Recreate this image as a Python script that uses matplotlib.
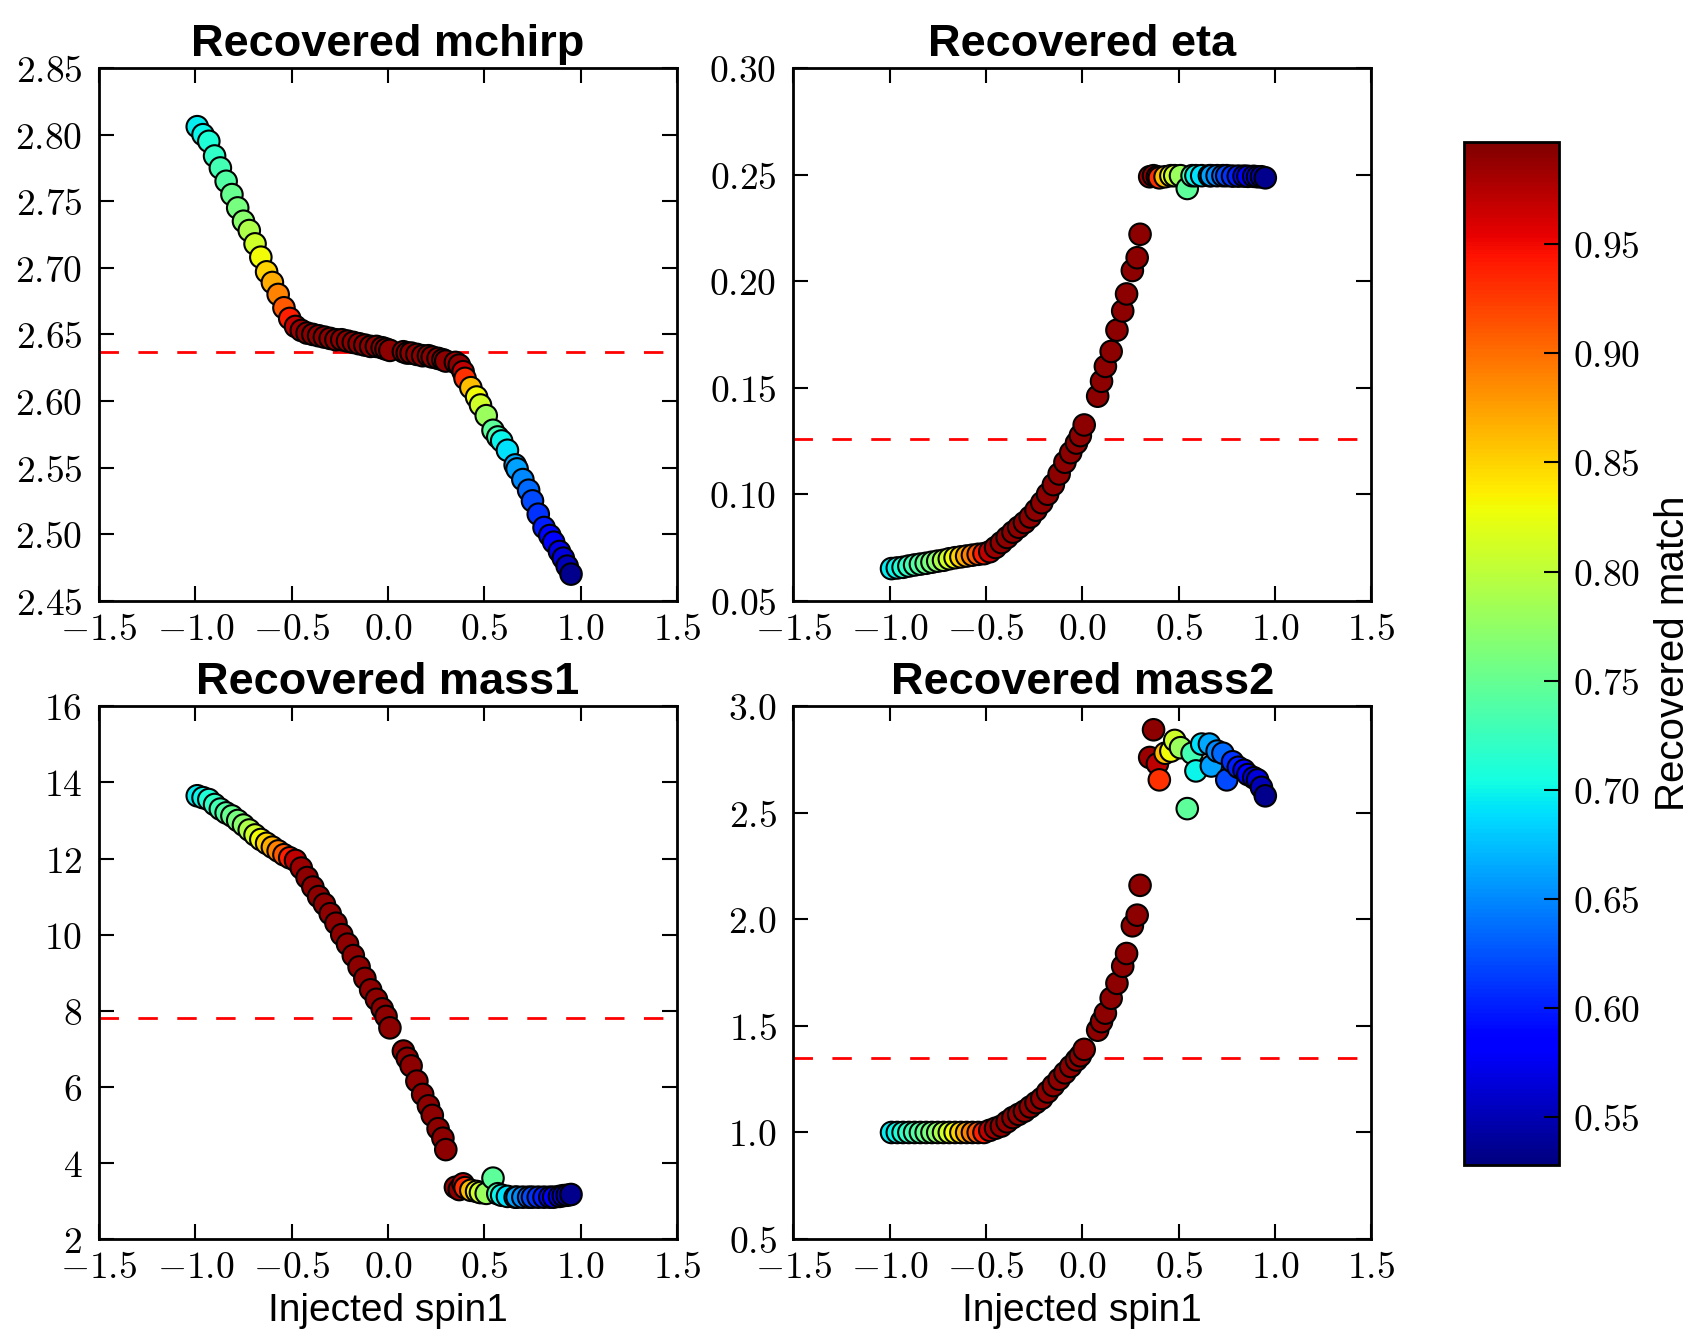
import matplotlib
matplotlib.use("Agg")
import matplotlib.pyplot as plt
from matplotlib.ticker import MultipleLocator, FormatStrFormatter

plt.rcParams['mathtext.fontset'] = 'cm'
plt.rcParams['font.family'] = ['Liberation Sans', 'DejaVu Sans']

# injected spin1 of each injection
spin1 = [-0.99, -0.96, -0.93, -0.90, -0.87, -0.84, -0.81, -0.78, -0.75, -0.72,
         -0.69, -0.66, -0.63, -0.60, -0.57, -0.54, -0.51, -0.48, -0.45, -0.42,
         -0.39, -0.36, -0.33, -0.30, -0.27, -0.24, -0.21, -0.18, -0.15, -0.12,
         -0.09, -0.06, -0.03, -0.01, 0.01, 0.08, 0.10, 0.12, 0.15, 0.18,
         0.21, 0.23, 0.26, 0.285, 0.30, 0.35, 0.37, 0.39, 0.40, 0.43,
         0.46, 0.48, 0.51, 0.545, 0.57, 0.59, 0.62, 0.66, 0.67, 0.70,
         0.73, 0.75, 0.78, 0.81, 0.84, 0.86, 0.89, 0.91, 0.93, 0.95]

# recovered match (colour)
match = [0.695, 0.70, 0.71, 0.72, 0.73, 0.74, 0.75, 0.76, 0.77, 0.79,
         0.81, 0.83, 0.85, 0.87, 0.89, 0.91, 0.94, 0.97, 0.985, 0.99,
         0.99, 0.99, 0.99, 0.99, 0.99, 0.99, 0.99, 0.99, 0.99, 0.99,
         0.99, 0.99, 0.99, 0.99, 0.99, 0.99, 0.99, 0.99, 0.99, 0.99,
         0.99, 0.99, 0.99, 0.99, 0.99, 0.985, 0.99, 0.97, 0.93, 0.86,
         0.83, 0.81, 0.78, 0.745, 0.73, 0.70, 0.69, 0.665, 0.66, 0.65,
         0.635, 0.62, 0.61, 0.60, 0.59, 0.585, 0.57, 0.565, 0.55, 0.535]

rec_mchirp = [2.806, 2.800, 2.795, 2.784, 2.775, 2.765, 2.755, 2.745, 2.735, 2.728,
              2.718, 2.708, 2.697, 2.689, 2.680, 2.670, 2.662, 2.656, 2.653, 2.651,
              2.650, 2.649, 2.648, 2.647, 2.646, 2.646, 2.645, 2.644, 2.643, 2.642,
              2.641, 2.641, 2.640, 2.639, 2.638, 2.637, 2.636, 2.636, 2.635, 2.634,
              2.634, 2.633, 2.632, 2.631, 2.630, 2.629, 2.627, 2.622, 2.617, 2.610,
              2.603, 2.597, 2.589, 2.578, 2.573, 2.570, 2.563, 2.552, 2.549, 2.541,
              2.533, 2.525, 2.515, 2.505, 2.499, 2.494, 2.487, 2.482, 2.476, 2.470]

rec_eta = [0.0651, 0.0654, 0.0657, 0.0663, 0.0668, 0.0672, 0.0676, 0.0681, 0.0686, 0.0690,
           0.0697, 0.0702, 0.0706, 0.0710, 0.0714, 0.0718, 0.0721, 0.0730, 0.0750, 0.0773,
           0.0797, 0.0822, 0.0845, 0.0867, 0.0893, 0.0925, 0.0960, 0.1000, 0.1045, 0.1095,
           0.1150, 0.1195, 0.1240, 0.1275, 0.1325, 0.1460, 0.1530, 0.1600, 0.1670, 0.1770,
           0.1860, 0.1940, 0.2050, 0.2110, 0.2220, 0.2490, 0.2495, 0.2490, 0.2485, 0.2490,
           0.2495, 0.2495, 0.2495, 0.2435, 0.2495, 0.2495, 0.2495, 0.2495, 0.2495, 0.2495,
           0.2495, 0.2495, 0.2493, 0.2493, 0.2493, 0.2492, 0.2492, 0.2490, 0.2490, 0.2485]

rec_mass1 = [13.65, 13.60, 13.55, 13.42, 13.30, 13.20, 13.12, 13.00, 12.88, 12.75,
             12.62, 12.50, 12.40, 12.30, 12.20, 12.10, 12.02, 11.95, 11.75, 11.50,
             11.25, 11.00, 10.80, 10.55, 10.30, 10.00, 9.75, 9.45, 9.15, 8.85,
             8.55, 8.30, 8.05, 7.85, 7.55, 6.94, 6.75, 6.55, 6.15, 5.80,
             5.50, 5.25, 4.90, 4.65, 4.35, 3.36, 3.30, 3.45, 3.35, 3.28,
             3.25, 3.22, 3.20, 3.60, 3.19, 3.15, 3.12, 3.10, 3.10, 3.10,
             3.10, 3.10, 3.10, 3.10, 3.10, 3.10, 3.12, 3.14, 3.15, 3.17]

rec_mass2 = [1.00, 1.00, 1.00, 1.00, 1.00, 1.00, 1.00, 1.00, 1.00, 1.00,
             1.00, 1.00, 1.00, 1.00, 1.00, 1.00, 1.00, 1.01, 1.02, 1.03,
             1.05, 1.07, 1.085, 1.10, 1.12, 1.14, 1.16, 1.19, 1.22, 1.25,
             1.28, 1.31, 1.34, 1.36, 1.39, 1.48, 1.52, 1.56, 1.63, 1.70,
             1.78, 1.84, 1.97, 2.02, 2.16, 2.76, 2.89, 2.73, 2.655, 2.78,
             2.79, 2.84, 2.806, 2.52, 2.78, 2.697, 2.823, 2.823, 2.72, 2.79,
             2.78, 2.655, 2.74, 2.714, 2.70, 2.68, 2.665, 2.655, 2.62, 2.58]

# injected values (dashed lines)
inj_mchirp = 2.637
inj_eta = 0.1258
inj_mass1 = 7.8
inj_mass2 = 1.35

panels = [
    ("Recovered mchirp", rec_mchirp, inj_mchirp, (2.45, 2.85), 0.05, '$%.2f$', [0.0584, 0.550, 0.341, 0.399], False),
    ("Recovered eta", rec_eta, inj_eta, (0.05, 0.30), 0.05, '$%.2f$', [0.468, 0.550, 0.341, 0.399], False),
    ("Recovered mass1", rec_mass1, inj_mass1, (2, 16), 2, '$%d$', [0.0584, 0.0719, 0.341, 0.399], True),
    ("Recovered mass2", rec_mass2, inj_mass2, (0.5, 3.0), 0.5, '$%.1f$', [0.468, 0.0719, 0.341, 0.399], True),
]

fig = plt.figure(figsize=(16.95, 13.35), dpi=100)

for title, yvals, inj, ylim, step, fmt, pos, bottom in panels:
    ax = fig.add_axes(pos)
    sc = ax.scatter(spin1, yvals, c=match, cmap='jet', vmin=0.528, vmax=0.997,
                    s=240, edgecolors='black', linewidths=1.5, zorder=3)
    ax.axhline(inj, color='red', lw=2, linestyle=(0, (7, 7)), zorder=2)
    ax.set_xlim(-1.5, 1.5)
    ax.set_ylim(*ylim)
    ax.xaxis.set_major_locator(MultipleLocator(0.5))
    ax.yaxis.set_major_locator(MultipleLocator(step))
    ax.xaxis.set_major_formatter(FormatStrFormatter('$%.1f$'))
    ax.yaxis.set_major_formatter(FormatStrFormatter(fmt))
    ax.tick_params(direction='in', length=11, width=1.5, top=True, right=True,
                   labelsize=27)
    ax.tick_params(axis='x', pad=8)
    ax.tick_params(axis='y', pad=12)
    for sp in ax.spines.values():
        sp.set_linewidth(2)
    ax.set_title(title, fontsize=32.5, fontweight='bold', pad=9)
    if bottom:
        ax.set_xlabel("Injected spin1", fontsize=28, labelpad=5)

cax = fig.add_axes([0.864, 0.127, 0.056, 0.767])
cb = fig.colorbar(sc, cax=cax)
cb.set_ticks([0.55, 0.60, 0.65, 0.70, 0.75, 0.80, 0.85, 0.90, 0.95])
cb.ax.yaxis.set_major_formatter(FormatStrFormatter('$%.2f$'))
cb.ax.tick_params(direction='in', length=11, width=1.5, labelsize=27, pad=10)
cb.outline.set_linewidth(2)
cb.set_label("Recovered match", fontsize=29, labelpad=10)

fig.savefig("out.png", dpi=100)
